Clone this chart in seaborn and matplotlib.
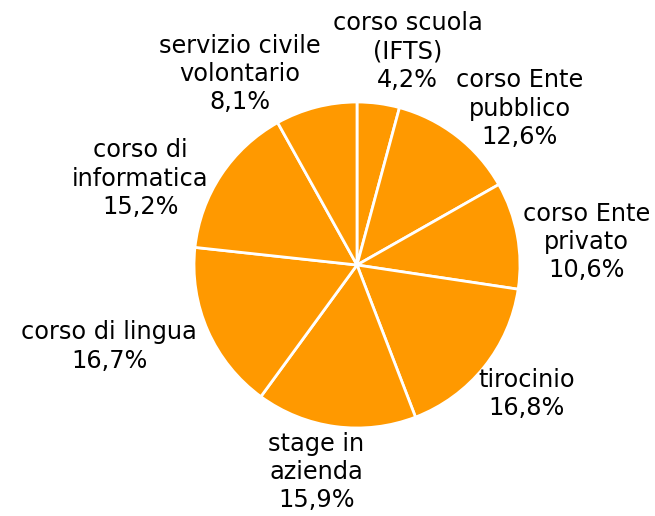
import matplotlib
matplotlib.use("Agg")
import matplotlib.pyplot as plt
import seaborn as sns
import numpy as np

# Data
categories = ["corso scuola\n(IFTS)", "corso Ente\npubblico", "corso Ente\nprivato",
              "tirocinio", "stage in\nazienda", "corso di lingua",
              "corso di\ninformatica", "servizio civile\nvolontario"]
values = [4.2, 12.6, 10.6, 16.8, 15.9, 16.7, 15.2, 8.1]
pct_labels = ["4,2%", "12,6%", "10,6%", "16,8%", "15,9%", "16,7%", "15,2%", "8,1%"]

# label placement (in pie-radius units)
label_pos = [(0.31, 1.31), (1.0, 0.96), (1.41, 0.14), (1.04, -0.79),
             (-0.25, -1.27), (-1.52, -0.50), (-1.33, 0.53), (-0.72, 1.17)]

sns.set_theme(style="white")
plt.rcParams["font.family"] = ["DejaVu Sans"]

fig = plt.figure(figsize=(6.55, 5.16), dpi=100)
ax = fig.add_axes([0, 0, 1, 1])

wedges, _ = ax.pie(values, startangle=90, counterclock=False, colors=["#FF9900"],
                   wedgeprops=dict(edgecolor="white", linewidth=2))

for cat, pct, (x, y) in zip(categories, pct_labels, label_pos):
    ax.text(x, y, f"{cat}\n{pct}", ha="center", va="center", fontsize=17.3,
            color="black", linespacing=1.22)

ax.set_aspect("auto")
ax.set_xlim(-357 / 163, (655 - 357) / 163)
ax.set_ylim(-(516 - 265) / 163, 265 / 163)
ax.axis("off")

fig.savefig("out.png", dpi=100, facecolor="white")
